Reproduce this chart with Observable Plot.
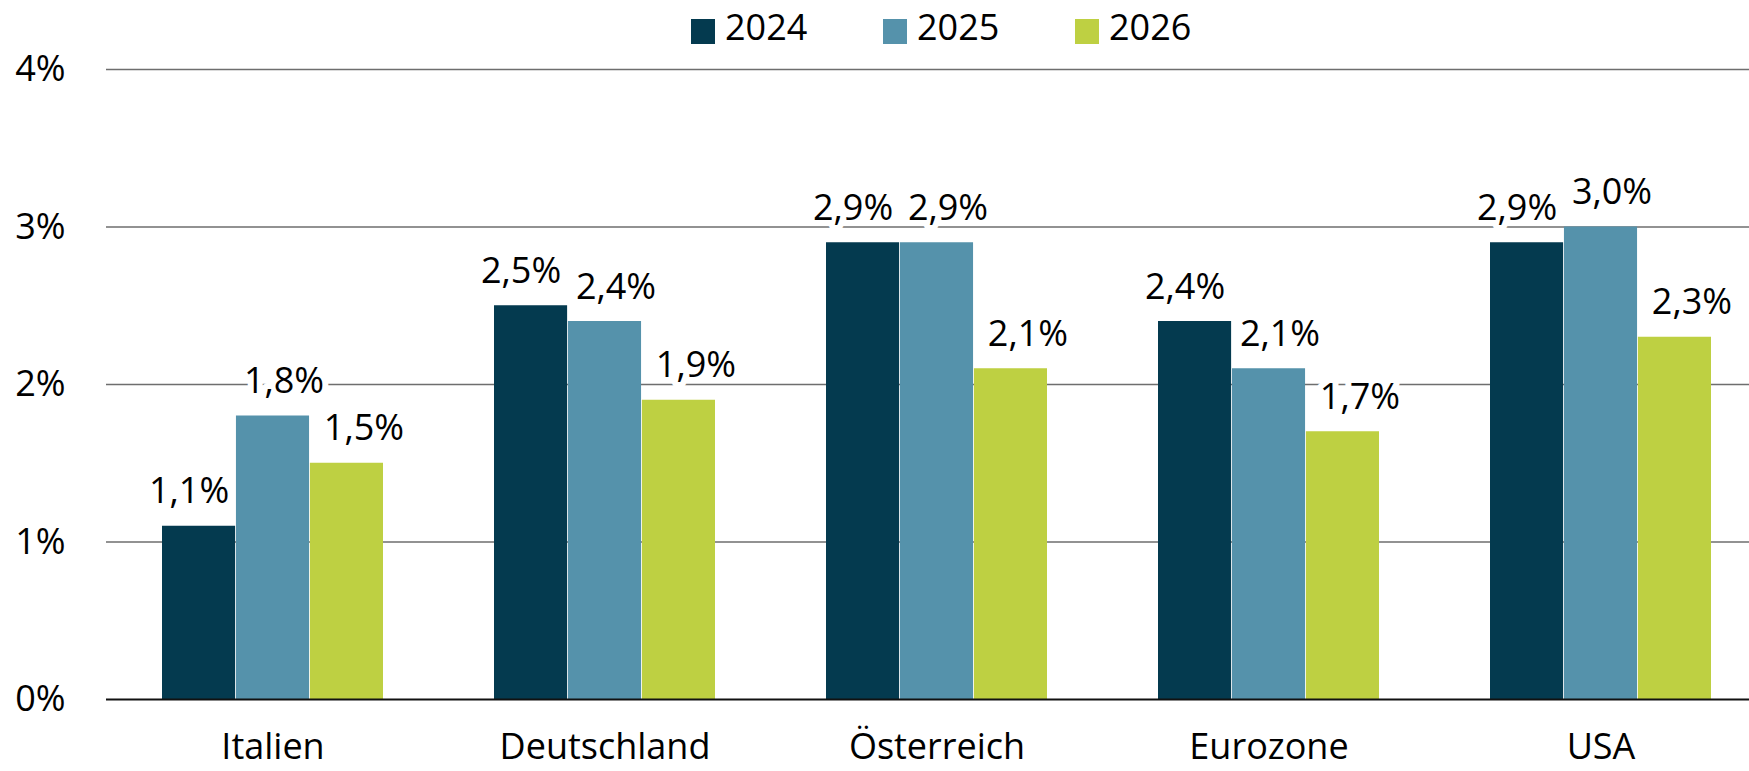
<!DOCTYPE html>
<html>
<head>
<meta charset="utf-8">
<script src="https://cdn.jsdelivr.net/npm/d3@7"></script>
<script src="https://cdn.jsdelivr.net/npm/@observablehq/plot@0.6"></script>
<style>
  html, body { margin: 0; padding: 0; background: #fff; }
  body { font-family: "Open Sans", sans-serif; width: 1749px; height: 771px; overflow: hidden; position: relative; }
  #legend { position: absolute; left: 0; top: 0; height: 48px; display: flex; padding-left: 691px; z-index: 2; }
  .item { display: flex; align-items: flex-start; width: 192px; flex: none; }
  .sw { width: 24px; height: 25px; margin-top: 19px; margin-right: 10px; flex: none; }
  .lab { font-size: 36px; line-height: 48px; margin-top: 3px; color: #000; }
  #chart svg { display: block; }
</style>
</head>
<body>
<div id="chart"></div>
<div id="legend"></div>
<script>
// ---- data ----
const countries = ["Italien", "Deutschland", "Österreich", "Eurozone", "USA"];
const years = ["2024", "2025", "2026"];
const values2024 = [1.1, 2.5, 2.9, 2.4, 2.9];
const values2025 = [1.8, 2.4, 2.9, 2.1, 3.0];
const values2026 = [1.5, 1.9, 2.1, 1.7, 2.3];
const colors = ["#043A4F", "#5592AB", "#BED042"];
const yTicks = [0, 1, 2, 3, 4];

const seriesValues = [values2024, values2025, values2026];
const data = [];
years.forEach((yr, i) => countries.forEach((c, j) => data.push({country: c, year: yr, value: seriesValues[i][j]})));

// ---- legend ----
const legend = document.getElementById("legend");
years.forEach((yr, i) => {
  const item = document.createElement("div");
  item.className = "item";
  const sw = document.createElement("div");
  sw.className = "sw";
  sw.style.background = colors[i];
  const lab = document.createElement("div");
  lab.className = "lab";
  lab.textContent = yr;
  item.appendChild(sw); item.appendChild(lab);
  legend.appendChild(item);
});

// ---- chart ----
const padInner = 0.3336, padOuter = 0.1668;
const xRange = [104, 1768.5];
const step = (xRange[1] - xRange[0]) / countries.length;
const bw = step * (1 - padInner) / 3;
const nudge = [-10, 11, 17];
const fmt = v => v.toFixed(1).replace(".", ",") + "%";

const marks = [
  Plot.ruleY(yTicks.filter(d => d > 0), {stroke: "#6e6e6e", strokeWidth: 1.3}),
];
years.forEach((yr, i) => {
  marks.push(Plot.barY(data.filter(d => d.year === yr), {
    x: "country", y: "value", fill: "year",
    insetLeft: i * bw, insetRight: (2 - i) * bw
  }));
});
marks.push(Plot.ruleY([0], {stroke: "#111", strokeWidth: 2}));
years.forEach((yr, i) => {
  marks.push(Plot.text(data.filter(d => d.year === yr), {
    x: "country", y: "value", text: d => fmt(d.value),
    dx: (i - 1) * bw + nudge[i], dy: -23, lineAnchor: "bottom",
    fill: "#000", stroke: "#fff", strokeWidth: 12, paintOrder: "stroke", strokeLinejoin: "round",
    fontSize: 36
  }));
});
marks.push(Plot.axisY({ticks: yTicks, tickFormat: d => d + "%", tickSize: 0, tickPadding: 41, label: null, fontSize: 36}));
marks.push(Plot.axisX({tickSize: 0, tickPadding: 34, label: null, fontSize: 36}));

const chart = Plot.plot({
  width: 1749,
  height: 771,
  marginLeft: 106,
  marginRight: 0,
  marginTop: 69,
  marginBottom: 72,
  x: {domain: countries, range: xRange, paddingInner: padInner, paddingOuter: padOuter, label: null},
  y: {domain: [0, 4], label: null},
  color: {domain: years, range: colors},
  style: {fontFamily: "Open Sans", fontSize: "36px", color: "#000", background: "#fff"},
  marks
});
document.getElementById("chart").appendChild(chart);
</script>
</body>
</html>
